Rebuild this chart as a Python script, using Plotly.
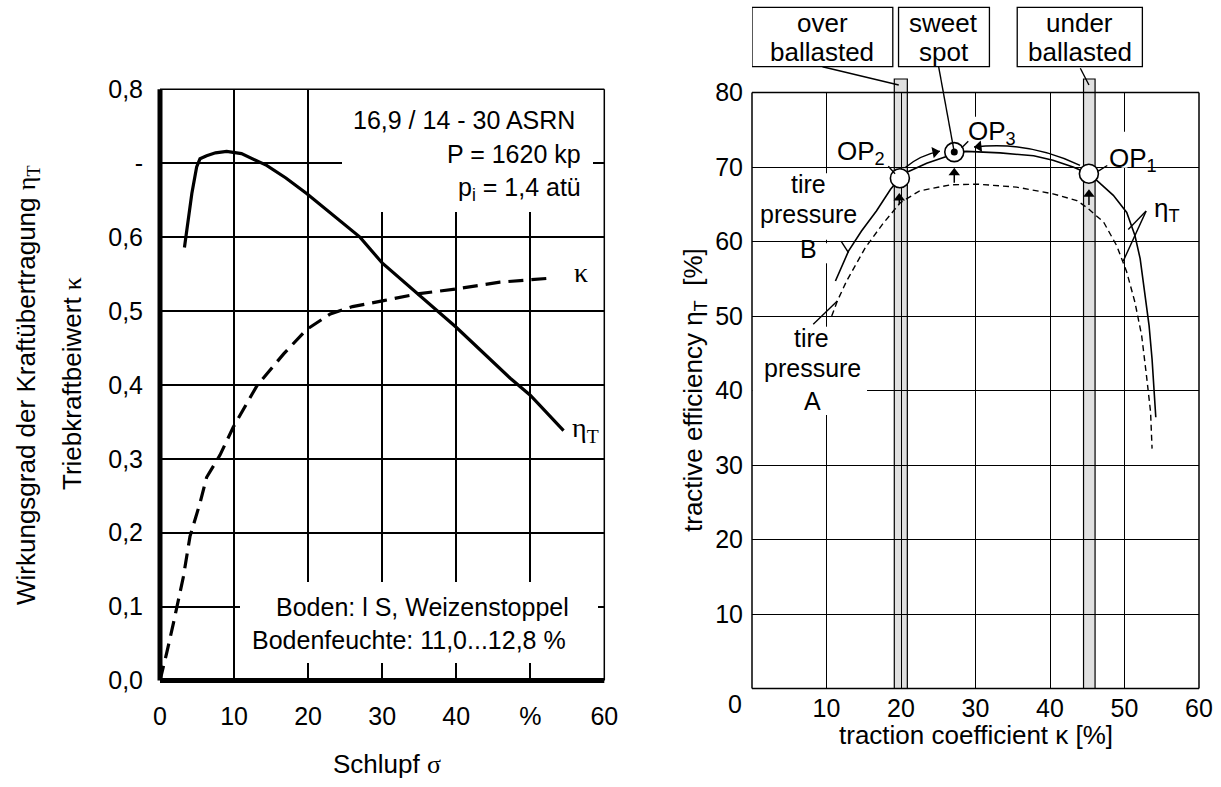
import math
import plotly.graph_objects as go

W, H = 1221, 787

# ---------------- data: left chart (slip sigma in %) ----------------
slip_eta = [3.3, 3.8, 4.3, 4.95, 5.4, 6.3, 7.5, 9.0, 11.0, 14.4, 17.0, 19.8, 23.4, 27.0, 30.0, 34.7, 40.0, 47.3, 50.0, 54.5]
eta_T = [0.586, 0.625, 0.659, 0.695, 0.706, 0.710, 0.714, 0.716, 0.713, 0.697, 0.680, 0.659, 0.629, 0.600, 0.565, 0.524, 0.478, 0.409, 0.386, 0.338]
slip_kappa = [0, 0.5, 0.9, 1.8, 2.5, 3.15, 4.05, 5.4, 6.3, 8.1, 9.9, 13.1, 16.7, 19.8, 23.0, 26.0, 30.2, 34.7, 40.1, 45.9, 52.2]
kappa_left = [0, 0.02, 0.037, 0.077, 0.108, 0.14, 0.195, 0.24, 0.275, 0.305, 0.343, 0.399, 0.442, 0.475, 0.496, 0.506, 0.514, 0.523, 0.530, 0.539, 0.544]
left_xticks = [0, 10, 20, 30, 40, 50, 60]
left_xtext = ["0", "10", "20", "30", "40", "%", "60"]
left_yticks = [0, 0.1, 0.2, 0.3, 0.4, 0.5, 0.6, 0.7, 0.8]
left_ytext = ["0,0", "0,1", "0,2", "0,3", "0,4", "0,5", "0,6", "-", "0,8"]

# ---------------- data: right chart (traction coefficient kappa in %) ----------------
kappa_B = [11.2, 12.95, 14.7, 16.7, 18.6, 19.85, 20.8, 23.45, 26.1, 27.15, 28.8, 33.3, 37.8, 40.4, 43.1, 45.22, 46.5, 48.5, 50.3, 51.4, 52.1, 52.75, 53.3, 53.7, 54.0, 54.2]
eta_B = [54.7, 58.7, 61.4, 64.1, 67.0, 68.5, 69.3, 70.5, 71.4, 72.0, 72.1, 71.9, 71.5, 70.9, 70.0, 69.1, 68.0, 66.2, 63.9, 60.8, 57.7, 53.2, 48.7, 44.2, 39.8, 36.4]
kappa_A = [10.7, 11.45, 12.7, 15.2, 17.5, 19.9, 22.5, 26.6, 30.2, 35.5, 40.4, 43.6, 44.9, 47.2, 48.95, 50.3, 51.4, 52.3, 52.95, 53.5, 53.7]
eta_A = [50.0, 52.0, 54.7, 59.15, 62.3, 65.2, 66.8, 67.6, 67.7, 67.3, 66.4, 65.5, 64.6, 62.6, 59.45, 55.9, 51.85, 47.4, 42.0, 37.1, 32.2]
op_names = ["OP1", "OP2", "OP3"]
op_kappa = [45.22, 19.85, 27.15]
op_eta = [69.1, 68.5, 72.0]
band_lo = [19.1, 44.5]
band_hi = [20.85, 46.05]
band_dot_kappa = [19.7, 45.23]
band_dot_eta = [81.0, 81.0]
right_xticks = [10, 20, 30, 40, 50, 60]
right_yticks = [10, 20, 30, 40, 50, 60, 70, 80]

# ---------------- geometry (pixels) ----------------
L_X0, L_X1, L_YB, L_YT = 160.0, 604.3, 680.5, 89.3
R_X0, R_X1, R_YB, R_YT = 752.0, 1199.0, 688.5, 92.5
RSX = 60 / (R_X1 - R_X0)     # data units per px (right x)
RSY = 80 / (R_YB - R_YT)     # data units per px (right y)

def lx(p): return (p - L_X0) / (L_X1 - L_X0) * 60
def ly(p): return (L_YB - p) / (L_YB - L_YT) * 0.8
def rx(p): return (p - R_X0) * RSX
def ry(p): return (R_YB - p) * RSY
def pp(p): return 1 - p / H          # paper y from pixel y
def ry2px(v): return R_YB - v / RSY

SANS = "Liberation Sans, Arial, sans-serif"
SERIF = "Liberation Serif, Times New Roman, serif"
FL = 25
FR = 25

fig = go.Figure()

# ---- left traces ----
fig.add_trace(go.Scatter(x=slip_kappa, y=kappa_left, mode="lines", xaxis="x", yaxis="y",
                         line=dict(color="black", width=3.2, dash="15px,8px"), hoverinfo="skip"))
fig.add_trace(go.Scatter(x=slip_eta, y=eta_T, mode="lines", xaxis="x", yaxis="y",
                         line=dict(color="black", width=3.2), hoverinfo="skip"))

# ---- right traces ----
fig.add_trace(go.Scatter(x=kappa_A, y=eta_A, mode="lines", xaxis="x2", yaxis="y2",
                         line=dict(color="black", width=1.4, dash="6px,4px"), hoverinfo="skip"))
fig.add_trace(go.Scatter(x=kappa_B, y=eta_B, mode="lines", xaxis="x2", yaxis="y2",
                         line=dict(color="black", width=1.6), hoverinfo="skip"))

shapes = []
def line(x0, y0, x1, y1, xref="x2", yref="y2", w=1.4, layer="above"):
    shapes.append(dict(type="line", xref=xref, yref=yref, x0=x0, y0=y0, x1=x1, y1=y1,
                       line=dict(color="black", width=w), layer=layer))
def mask(x0, x1, y0, y1, xref, yref):
    shapes.append(dict(type="rect", xref=xref, yref=yref, x0=x0, x1=x1, y0=y0, y1=y1,
                       fillcolor="white", line=dict(width=0), layer="between"))

# gray operating bands (below the grid)
for lo, hi in zip(band_lo, band_hi):
    shapes.append(dict(type="rect", xref="x2", yref="paper", x0=lo, x1=hi, y0=pp(R_YB), y1=pp(79),
                       fillcolor="#e0e0e0", line=dict(color="black", width=1.2), layer="below"))

# left masks behind text blocks
mask(lx(342), lx(593), ly(212), 0.85, "x", "y")
mask(lx(240), lx(598), ly(663), ly(582), "x", "y")
# right masks (gaps in the grid)
mask(9.6, 10.4, ry(263.3), 59.75, "x2", "y2")
mask(9.6, 10.4, 60.25, ry(173.3), "x2", "y2")
mask(9.6, 10.4, ry(415), ry(326.7), "x2", "y2")
mask(0.05, 15.44, 39.7, 40.3, "x2", "y2")
mask(29.6, 30.4, 72.8, 76.75, "x2", "y2")
mask(49.6, 50.4, 69.9, 74.74, "x2", "y2")

# borders left
line(0, 0, 0, 1, "x domain", "y domain", 5)
line(0, 0, 1, 0, "x domain", "y domain", 5)
line(1, 0, 1, 1, "x domain", "y domain", 1.5)
line(0, 1, 1, 1, "x domain", "y domain", 1.5)
# borders right
for (a, b, c, d) in [(0, 0, 0, 1), (0, 0, 1, 0), (1, 0, 1, 1), (0, 1, 1, 1)]:
    line(a, b, c, d, "x2 domain", "y2 domain", 1.5)

# top label boxes
boxes = [(0.0, 18.9), (19.67, 31.87), (35.6, 52.4)]
for x0, x1 in boxes:
    shapes.append(dict(type="rect", xref="x2", yref="paper", x0=x0, x1=x1, y0=pp(66.7), y1=pp(7.3),
                       fillcolor="white", line=dict(color="black", width=1.3), layer="above"))
# leaders from boxes
line(9.46, pp(66.7), band_dot_kappa[0], pp(85), "x2", "paper", 1.4)
line(25.05, pp(66.7), op_kappa[2], pp(ry2px(op_eta[2])), "x2", "paper", 1.4)
line(44.07, pp(68.3), band_dot_kappa[1], pp(85), "x2", "paper", 1.4)
# label pointers
line(11.95, 60.04, 12.95, 58.5)
line(8.22, 48.9, 11.45, 52.0)
line(18.3, 70.1, 19.2, 69.1)
line(29.03, 73.47, 28.15, 72.58)
line(47.69, 70.2, 46.48, 69.45)
line(52.9, 64.08, 50.5, 61.62)
line(52.9, 64.08, 49.83, 57.37)

# curved arrows (quadratic paths) and their heads
arcs = [((20.54, 69.9), (22.52, 71.59), (25.23, 72.13)),
        ((44.03, 70.21), (37.1, 73.56), (29.8, 72.67))]
head_x, head_y, head_ang = [], [], []
R_HEAD = 5.0  # px
for (p0, c, p2) in arcs:
    shapes.append(dict(type="path", xref="x2", yref="y2",
                       path=f"M {p0[0]},{p0[1]} Q {c[0]},{c[1]} {p2[0]},{p2[1]}",
                       line=dict(color="black", width=1.5), layer="above"))
    dxp = (p2[0] - c[0]) / RSX
    dyp = -(p2[1] - c[1]) / RSY
    n = math.hypot(dxp, dyp)
    ux, uy = dxp / n, dyp / n
    head_x.append(p2[0] - R_HEAD * ux * RSX)
    head_y.append(p2[1] + R_HEAD * uy * RSY)
    head_ang.append(math.degrees(math.atan2(uy, ux)))

# small upward arrows under the operating points
up_tip_x = [19.77, 27.15, 45.23]
up_tip_y = [66.52, 69.9, 67.0]
up_tail_y = [65.0, 67.9, 64.9]
for tx, ty, tl in zip(up_tip_x, up_tip_y, up_tail_y):
    line(tx, tl, tx, ty - 0.5, w=1.5)
    head_x.append(tx)
    head_y.append(ty - R_HEAD * RSY)
    head_ang.append(-90)

fig.add_trace(go.Scatter(x=head_x, y=head_y, mode="markers", xaxis="x2", yaxis="y2",
                         marker=dict(symbol="triangle-right", size=10, color="black", angle=head_ang,
                                     line=dict(width=0)),
                         cliponaxis=False, hoverinfo="skip"))
fig.add_trace(go.Scatter(x=op_kappa, y=op_eta, mode="markers", xaxis="x2", yaxis="y2",
                         marker=dict(size=19, color="white", line=dict(color="black", width=1.6)),
                         cliponaxis=False, hoverinfo="skip"))
fig.add_trace(go.Scatter(x=[op_kappa[2]], y=[op_eta[2]], mode="markers", xaxis="x2", yaxis="y2",
                         marker=dict(size=7, color="black"), cliponaxis=False, hoverinfo="skip"))
fig.add_trace(go.Scatter(x=band_dot_kappa, y=band_dot_eta, mode="markers", xaxis="x2", yaxis="y2",
                         marker=dict(size=7, color="black"), cliponaxis=False, hoverinfo="skip"))

ann = []
def text(x, y, s, xref, yref, size, xanchor="center", yanchor="middle", family=SANS, angle=0):
    ann.append(dict(x=x, y=y, xref=xref, yref=yref, text=s, showarrow=False, xanchor=xanchor,
                    yanchor=yanchor, textangle=angle, font=dict(family=family, size=size, color="black")))

# ---- left texts ----
text(lx(577), ly(120), "16,9 / 14 - 30 ASRN", "x", "y", FL, xanchor="right")
text(lx(583.3), ly(154), "P = 1620 kp", "x", "y", FL, xanchor="right")
text(lx(583.3), ly(189), "p<sub>i</sub> = 1,4 atü", "x", "y", FL, xanchor="right")
text(lx(422.5), ly(606.5), "Boden: l S, Weizenstoppel", "x", "y", FL)
text(lx(409), ly(639.5), "Bodenfeuchte: 11,0...12,8 %", "x", "y", FL)
text(lx(571.7), ly(273), "κ", "x", "y", 28, xanchor="left", family=SERIF)
text(lx(570), ly(430), "η<sub>T</sub>", "x", "y", 28, xanchor="left", family=SERIF)
text(27 / W, pp(385), "Wirkungsgrad der Kraftübertragung <span style='font-family:Liberation Serif'>η<sub>T</sub></span>",
     "paper", "paper", 26, angle=-90)
text(72 / W, pp(384), "Triebkraftbeiwert <span style='font-family:Liberation Serif'>κ</span>", "paper", "paper", 26, angle=-90)
text(386.7 / W, pp(764), "Schlupf <span style='font-family:Liberation Serif'>σ</span>", "paper", "paper", 26)

# ---- right texts ----
text(9.45, pp(23.4), "over", "x2", "paper", 26)
text(9.45, pp(52), "ballasted", "x2", "paper", 26)
text(25.77, pp(23.4), "sweet", "x2", "paper", 26)
text(25.77, pp(52), "spot", "x2", "paper", 26)
text(44.0, pp(23.4), "under", "x2", "paper", 26)
text(44.0, pp(52), "ballasted", "x2", "paper", 26)
text(rx(887), ry(152.6), "OP<sub>2</sub>", "x2", "y2", 26, xanchor="right")
text(rx(965.7), ry(132.6), "OP<sub>3</sub>", "x2", "y2", 26, xanchor="left")
text(rx(1107.3), ry(159.2), "OP<sub>1</sub>", "x2", "y2", 26, xanchor="left")
text(rx(1151.7), ry(209), "η<sub>T</sub>", "x2", "y2", 26, xanchor="left")
text(7.6, ry(184), "tire", "x2", "y2", 25)
text(7.6, ry(213.5), "pressure", "x2", "y2", 25)
text(7.6, ry(249), "B", "x2", "y2", 25)
text(7.97, ry(338), "tire", "x2", "y2", 25)
text(8.1, ry(368), "pressure", "x2", "y2", 25)
text(8.1, ry(401), "A", "x2", "y2", 25)
text(735 / W, pp(704), "0", "paper", "paper", FR)
text(694.5 / W, pp(390.5), "tractive efficiency η<sub>T</sub>  [%]", "paper", "paper", 26, angle=-90)
text(975.5 / W, pp(735), "traction coefficient κ [%]", "paper", "paper", 26)

axis_common = dict(showgrid=True, gridcolor="black", zeroline=False, showline=False, ticks="",
                   automargin=False, fixedrange=True, color="black")

fig.update_layout(
    template="none", width=W, height=H, autosize=False, showlegend=False,
    margin=dict(l=0, r=0, t=0, b=0, pad=0),
    paper_bgcolor="white", plot_bgcolor="white",
    font=dict(family=SANS, color="black"),
    xaxis=dict(domain=[L_X0 / W, L_X1 / W], range=[0, 60], anchor="y", tickvals=left_xticks, ticktext=left_xtext,
               gridwidth=1.6, tickfont=dict(size=FL), ticklabelstandoff=18, **axis_common),
    yaxis=dict(domain=[pp(L_YB), pp(L_YT)], range=[0, 0.8], anchor="x", tickvals=left_yticks, ticktext=left_ytext,
               gridwidth=1.6, tickfont=dict(size=FL), ticklabelstandoff=16, **axis_common),
    xaxis2=dict(domain=[R_X0 / W, R_X1 / W], range=[0, 60], anchor="y2", tickvals=right_xticks,
                gridwidth=1.4, tickfont=dict(size=FR), ticklabelstandoff=2, **axis_common),
    yaxis2=dict(domain=[pp(R_YB), pp(R_YT)], range=[0, 80], anchor="x2", tickvals=right_yticks,
                gridwidth=1.4, tickfont=dict(size=FR), ticklabelstandoff=8, **axis_common),
    shapes=shapes, annotations=ann,
)

fig.write_html("out.html", config={"displayModeBar": False},
               post_script="document.body.style.margin='0px';document.body.style.overflow='hidden';")
